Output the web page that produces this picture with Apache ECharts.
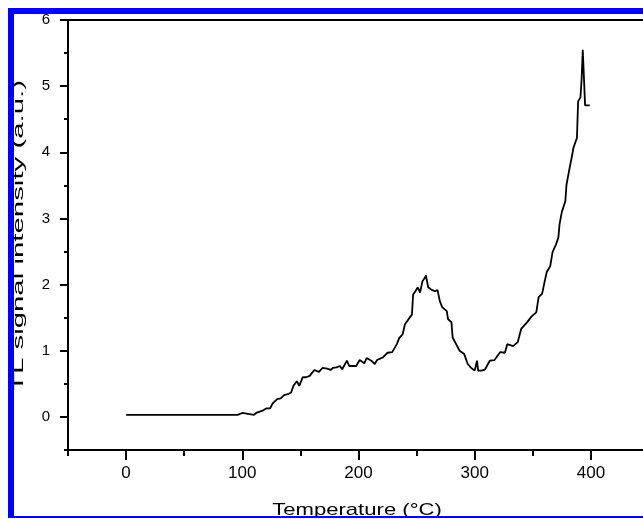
<!DOCTYPE html>
<html>
<head>
<meta charset="utf-8">
<script src="https://cdn.jsdelivr.net/npm/echarts@6/dist/echarts.min.js"></script>
<style>html,body{margin:0;padding:0;background:#fff;}#c{width:643px;height:519px;}</style>
</head>
<body>
<div id="c"></div>
<script>
var temperature = [0,20,40,60,80,96,97,100,101,110,112,115,118,121,124,126,130,133,136,140,142,144,147,149,152,155,158,162,166,169,173,176,178,181,184,186,190,192,196,198,201,205,207,211,214,216,221,225,229,233,235,238,240,242,246,247,249,251,253,255,257,258,260,263,266,267,268,270,272,274,276,277,280,281,284,287,291,294,297,300,302,303,306,309,313,317,322,326,328,333,337,340,345,349,353,355,358,360,362,365,367,370,372,373,375,378,379,381,384,385,388,389,391,392,393,394,395,399];
var intensity = [0.03,0.03,0.03,0.03,0.03,0.03,0.06,0.06,0.03,0.03,0.06,0.08,0.1,0.13,0.13,0.2,0.27,0.28,0.33,0.35,0.37,0.47,0.54,0.47,0.6,0.6,0.62,0.71,0.68,0.74,0.73,0.71,0.74,0.75,0.77,0.72,0.85,0.77,0.77,0.77,0.86,0.81,0.89,0.85,0.8,0.86,0.9,0.97,0.98,1.1,1.19,1.25,1.4,1.45,1.55,1.85,1.9,1.96,1.88,2.05,2.1,2.14,1.96,1.92,1.9,1.88,1.92,1.75,1.66,1.63,1.6,1.48,1.43,1.2,1.1,1.0,0.95,0.8,0.74,0.7,0.85,0.7,0.7,0.72,0.85,0.86,0.98,0.97,1.1,1.07,1.13,1.33,1.43,1.52,1.58,1.81,1.86,2.03,2.19,2.28,2.49,2.61,2.71,2.91,3.1,3.26,3.51,3.7,3.97,4.07,4.22,4.77,4.83,5.1,5.55,5.13,4.71,4.71];
var xMajorTicks = [0,100,200,300,400];
var xMinorTicks = [-50,50,150,250,350,450];
var yMajorTicks = [0,1,2,3,4,5,6];
var yMinorTicks = [-0.5,0.5,1.5,2.5,3.5,4.5,5.5];
var xTitle = 'Temperature (°C)';
var yTitle = 'TL signal intensity (a.u.)';

var font = 'Liberation Sans, Arial, sans-serif';
var chart = echarts.init(document.getElementById('c'), null, {renderer: 'canvas'});
var data = temperature.map(function (t, i) { return [t, intensity[i]]; });
var lineStyle = {color: '#000', width: 2};
chart.setOption({
  backgroundColor: '#fff',
  animation: false,
  grid: {left: 68, top: 20, width: 581, height: 430, containLabel: false, outerBoundsMode: 'none'},
  xAxis: [
    {
      type: 'value', min: -50, max: 450, position: 'bottom',
      axisLine: {show: true, onZero: false, lineStyle: lineStyle},
      axisTick: {show: true, customValues: xMajorTicks, length: 10, lineStyle: lineStyle},
      axisLabel: {customValues: xMajorTicks, margin: 15, color: '#000', fontSize: 17, fontFamily: font},
      splitLine: {show: false}
    },
    {
      type: 'value', min: -50, max: 450, position: 'bottom',
      axisLine: {show: false, onZero: false},
      axisTick: {show: true, customValues: xMinorTicks, length: 6, lineStyle: lineStyle},
      axisLabel: {show: false},
      splitLine: {show: false}
    },
    {
      type: 'value', min: -50, max: 450, position: 'top',
      axisLine: {show: true, onZero: false, lineStyle: lineStyle},
      axisTick: {show: false}, axisLabel: {show: false}, splitLine: {show: false}
    }
  ],
  yAxis: [
    {
      type: 'value', min: -0.5, max: 6, position: 'left',
      axisLine: {show: true, onZero: false, lineStyle: lineStyle},
      axisTick: {show: true, customValues: yMajorTicks, length: 8, lineStyle: lineStyle},
      axisLabel: {customValues: yMajorTicks, margin: 18, color: '#000', fontSize: 15, fontFamily: font},
      splitLine: {show: false}
    },
    {
      type: 'value', min: -0.5, max: 6, position: 'left',
      axisLine: {show: false, onZero: false},
      axisTick: {show: true, customValues: yMinorTicks, length: 4, lineStyle: lineStyle},
      axisLabel: {show: false},
      splitLine: {show: false}
    }
  ],
  series: [{
    type: 'line', xAxisIndex: 0, yAxisIndex: 0,
    data: data, showSymbol: false, symbol: 'none',
    lineStyle: {color: '#000', width: 1.8}
  }],
  graphic: [
    {type: 'text', z: 50, x: 357, y: 510, scaleX: 1.3, scaleY: 1,
      style: {text: xTitle, fill: '#000', font: '17px ' + font, textAlign: 'center', textVerticalAlign: 'middle'}},
    {type: 'text', z: 50, x: 19, y: 236, rotation: Math.PI / 2, scaleX: 2.1, scaleY: 1,
      style: {text: yTitle, fill: '#000', font: '14px ' + font, textAlign: 'center', textVerticalAlign: 'middle'}},
    {type: 'rect', z: 100, shape: {x: 8, y: 8, width: 635, height: 6}, style: {fill: '#0000ff'}},
    {type: 'rect', z: 100, shape: {x: 8, y: 8, width: 6, height: 511}, style: {fill: '#0000ff'}},
    {type: 'rect', z: 100, shape: {x: 8, y: 516, width: 635, height: 2}, style: {fill: '#0000ff'}},
    {type: 'rect', z: 100, shape: {x: 0, y: 518, width: 643, height: 1}, style: {fill: '#fff'}},
    {type: 'rect', z: 100, shape: {x: 0, y: 0, width: 8, height: 519}, style: {fill: '#fff'}},
    {type: 'rect', z: 100, shape: {x: 0, y: 0, width: 643, height: 8}, style: {fill: '#fff'}}
  ]
});
</script>
</body>
</html>
